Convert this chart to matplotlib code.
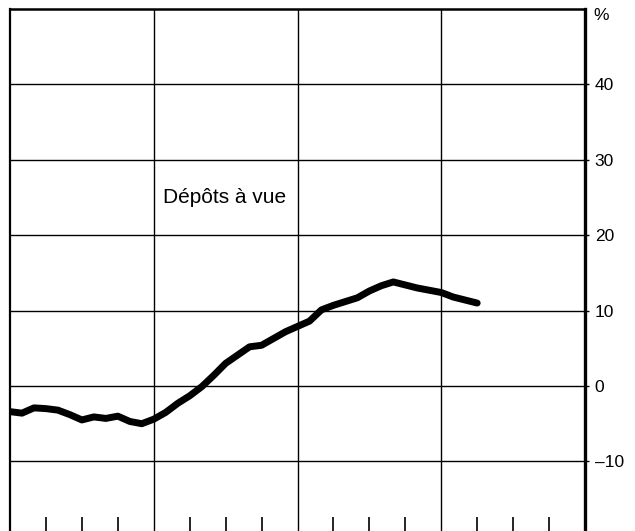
import numpy as np
import matplotlib
matplotlib.use("Agg")
import matplotlib.pyplot as plt

# monthly growth rate of sight deposits (%)
depots_a_vue = [
    -3.4, -3.6, -2.9, -3.0, -3.2, -3.8, -4.5, -4.1, -4.3, -4.0,
    -4.7, -5.0, -4.4, -3.5, -2.3, -1.3, -0.1, 1.4, 3.0, 4.1,
    5.2, 5.4, 6.3, 7.2, 7.9, 8.6, 10.1, 10.7, 11.2, 11.7,
    12.6, 13.3, 13.8, 13.4, 13.0, 12.7, 12.4, 11.8, 11.4, 11.0,
]
y_ticks = [-10, 0, 10, 20, 30, 40]
y_labels = ["\u201310", "0", "10", "20", "30", "40"]
n_quarters = 16

months = np.arange(len(depots_a_vue))
x = months / 3.0  # position in quarters

plt.rcParams['font.family'] = ['Liberation Sans', 'DejaVu Sans']

fig = plt.figure(figsize=(6.35, 5.31), dpi=100)
ax = fig.add_axes([10 / 635, 0.0, 575 / 635, 522 / 531])

ax.plot(x, depots_a_vue, color='black', linewidth=5,
        solid_capstyle='round', solid_joinstyle='round', zorder=3)

ax.set_xlim(0, n_quarters)
ax.set_ylim(-19.23, 50)

# year grid lines + quarter ticks at the bottom
ax.set_xticks([4, 8, 12])
ax.set_xticklabels([])
ax.set_xticks([q for q in range(1, n_quarters) if q % 4], minor=True)
ax.tick_params(axis='x', which='major', length=0)
ax.tick_params(axis='x', which='minor', direction='in', length=10,
               width=1.2, color='black')
ax.grid(True, axis='x', which='major', color='black', linewidth=1.0)

ax.yaxis.tick_right()
ax.set_yticks(y_ticks)
ax.set_yticklabels(y_labels, fontsize=12.5)
ax.tick_params(axis='y', length=3, width=1, pad=4, color='black')
ax.grid(True, axis='y', color='black', linewidth=1.0)
ax.set_axisbelow(True)

ax.spines['left'].set_linewidth(1.6)
ax.spines['top'].set_linewidth(1.8)
ax.spines['right'].set_linewidth(2.4)
ax.spines['bottom'].set_visible(False)

ax.text(1.015, 0.988, "%", transform=ax.transAxes, fontsize=12.5,
        ha='left', va='center')
ax.text(4.25, 24.3, "Dépôts à vue", fontsize=15, ha='left', va='baseline')

fig.savefig("out.png", dpi=100)
